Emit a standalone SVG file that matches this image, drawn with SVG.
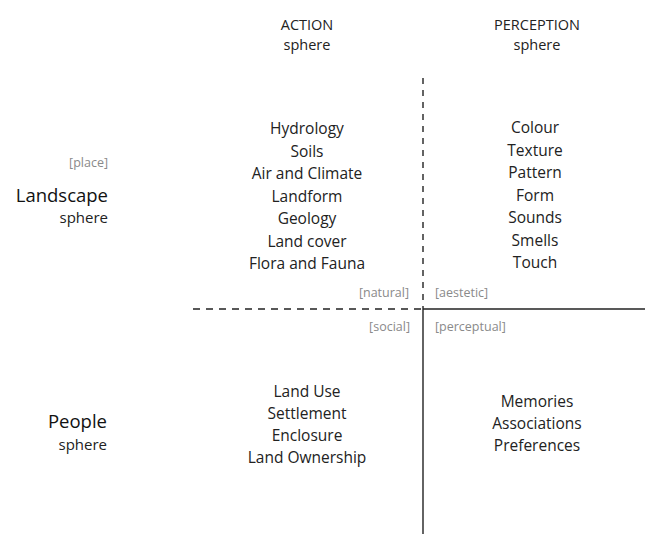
<svg xmlns="http://www.w3.org/2000/svg" width="645" height="534" viewBox="0 0 645 534">
<style>
text{font-family:"Open Sans","Liberation Sans",sans-serif;fill:#222}
.m{font-size:15.5px;text-anchor:middle}
.h{font-size:14.5px;text-anchor:middle}
.big{font-size:18.5px;text-anchor:end;fill:#111}
.sub{font-size:15px;text-anchor:end}
.tag{font-size:12.5px;fill:#8a8a8a}
.r{text-anchor:end}
</style>
<rect width="645" height="534" fill="#fff"/>
<g id="connectors" stroke="#222" stroke-width="1.4" fill="none">
<line x1="423" y1="78" x2="423" y2="309" stroke-dasharray="6,6"/>
<line x1="193" y1="309" x2="423" y2="309" stroke-dasharray="7,6"/>
<line x1="423" y1="309" x2="423" y2="534"/>
<line x1="423" y1="309" x2="645" y2="309"/>
</g>
<g id="action-header"><text class="h" x="307" y="30">ACTION</text><text class="h" x="307" y="50">sphere</text></g>
<g id="perception-header"><text class="h" x="537" y="30">PERCEPTION</text><text class="h" x="537" y="50">sphere</text></g>
<g id="landscape-sphere"><text class="tag r" x="108" y="167">[place]</text><text class="big" x="108" y="202">Landscape</text><text class="sub" x="108" y="223">sphere</text></g>
<g id="people-sphere"><text class="big" x="107" y="428">People</text><text class="sub" x="107" y="450">sphere</text></g>
<g id="natural-action">
<text class="m" x="307" y="134">Hydrology</text>
<text class="m" x="307" y="156.5">Soils</text>
<text class="m" x="307" y="179">Air and Climate</text>
<text class="m" x="307" y="201.5">Landform</text>
<text class="m" x="307" y="224">Geology</text>
<text class="m" x="307" y="246.5">Land cover</text>
<text class="m" x="307" y="269">Flora and Fauna</text>
</g>
<g id="aesthetic-perception">
<text class="m" x="535" y="133">Colour</text>
<text class="m" x="535" y="155.5">Texture</text>
<text class="m" x="535" y="178">Pattern</text>
<text class="m" x="535" y="200.5">Form</text>
<text class="m" x="535" y="223">Sounds</text>
<text class="m" x="535" y="245.5">Smells</text>
<text class="m" x="535" y="268">Touch</text>
</g>
<g id="social-action">
<text class="m" x="307" y="397">Land Use</text>
<text class="m" x="307" y="419">Settlement</text>
<text class="m" x="307" y="441">Enclosure</text>
<text class="m" x="307" y="463">Land Ownership</text>
</g>
<g id="perceptual-perception">
<text class="m" x="537" y="407">Memories</text>
<text class="m" x="537" y="429">Associations</text>
<text class="m" x="537" y="451">Preferences</text>
</g>
<g id="quadrant-tags">
<text class="tag r" x="409" y="297">[natural]</text>
<text class="tag" x="435" y="297">[aestetic]</text>
<text class="tag r" x="410" y="331">[social]</text>
<text class="tag" x="435" y="331">[perceptual]</text>
</g>
</svg>
